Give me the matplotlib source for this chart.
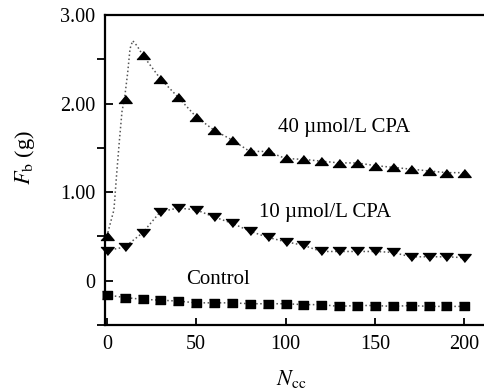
import numpy as np
import matplotlib
matplotlib.use("Agg")
import matplotlib.pyplot as plt

plt.rcParams['font.family'] = ['Liberation Serif', 'DejaVu Serif']
plt.rcParams['mathtext.fontset'] = 'stix'

# data
n_cc = [0, 10, 20, 30, 40, 50, 60, 70, 80, 90, 100,
        110, 120, 130, 140, 150, 160, 170, 180, 190, 200]
cpa40 = [0.50, 2.05, 2.55, 2.28, 2.07, 1.85, 1.70, 1.59, 1.46, 1.46, 1.38,
         1.37, 1.35, 1.33, 1.33, 1.30, 1.28, 1.26, 1.24, 1.22, 1.22]
cpa10 = [0.34, 0.38, 0.54, 0.78, 0.82, 0.80, 0.72, 0.65, 0.56, 0.49, 0.44,
         0.40, 0.33, 0.33, 0.33, 0.33, 0.32, 0.27, 0.27, 0.27, 0.26]
control = [-0.16, -0.19, -0.21, -0.22, -0.23, -0.25, -0.25, -0.25, -0.26, -0.26, -0.26,
           -0.27, -0.27, -0.29, -0.28, -0.28, -0.29, -0.28, -0.29, -0.29, -0.29]

# dotted fit curve of the 40 umol/L series over the first cycles (overshoots)
fit40_x = [0, 4, 5.5, 7, 8.5, 10, 11.7, 13, 14.5, 17, 20]
fit40_y = [0.50, 0.80, 1.20, 1.57, 1.91, 2.07, 2.35, 2.62, 2.71, 2.65, 2.55]

tri_up = [(-1, -0.6), (1, -0.6), (0, 0.6)]
tri_dn = [(-1, 0.6), (1, 0.6), (0, -0.6)]
rect = [(-1, -0.8), (1, -0.8), (1, 0.8), (-1, 0.8)]

fig = plt.figure(figsize=(4.85, 3.9), dpi=100)
ax = fig.add_axes([0.2165, 0.1667, 0.7835, 0.7948])

lc = '#555555'
ax.plot(fit40_x, fit40_y, ':', color=lc, lw=1.1)
ax.plot(n_cc[2:], cpa40[2:], ':', color=lc, lw=1.1)
ax.plot(n_cc, cpa10, ':', color=lc, lw=1.1)
ax.plot(n_cc, control, ':', color=lc, lw=1.1)

ax.plot(n_cc, cpa40, ls='none', marker=tri_up, ms=9.5, color='black', clip_on=False)
ax.plot(n_cc, cpa10, ls='none', marker=tri_dn, ms=9.5, color='black', clip_on=False)
ax.plot(n_cc, control, ls='none', marker=rect, ms=7.5, color='black', clip_on=False)

ax.text(133, 1.73, '40 \u00b5mol/L CPA', fontsize=15, ha='center', va='center')
ax.text(122, 0.77, '10 \u00b5mol/L CPA', fontsize=15, ha='center', va='center')
ax.text(62, 0.01, 'Control', fontsize=15, ha='center', va='center')

ax.set_xlim(-1, 211.6)
ax.set_ylim(-0.5, 3.0)

ax.set_xticks([0, 50, 100, 150, 200])
ax.set_yticks([0, 1, 2, 3])
ax.set_yticklabels(['0', '1.00', '2.00', '3.00'])
ax.set_yticks([-0.5, 0.5, 1.5, 2.5], minor=True)

ax.tick_params(axis='both', direction='in', labelsize=14.5, width=1.3)
ax.tick_params(axis='y', which='major', length=6, pad=7)
ax.tick_params(axis='y', which='minor', length=6, width=1.3)
ax.tick_params(axis='x', length=5, pad=7)

ax.spines['right'].set_visible(False)
for s in ['left', 'top', 'bottom']:
    ax.spines[s].set_linewidth(1.6)

ax.set_xlabel(r'$\mathit{N}_{\mathrm{cc}}$', fontsize=16)
ax.set_ylabel(r'$\mathit{F}_{\mathrm{b}}$ (g)', fontsize=16)
ax.xaxis.set_label_coords(0.49, -0.14)
ax.yaxis.set_label_coords(-0.179, 0.54)

fig.savefig('out.png', dpi=100)
